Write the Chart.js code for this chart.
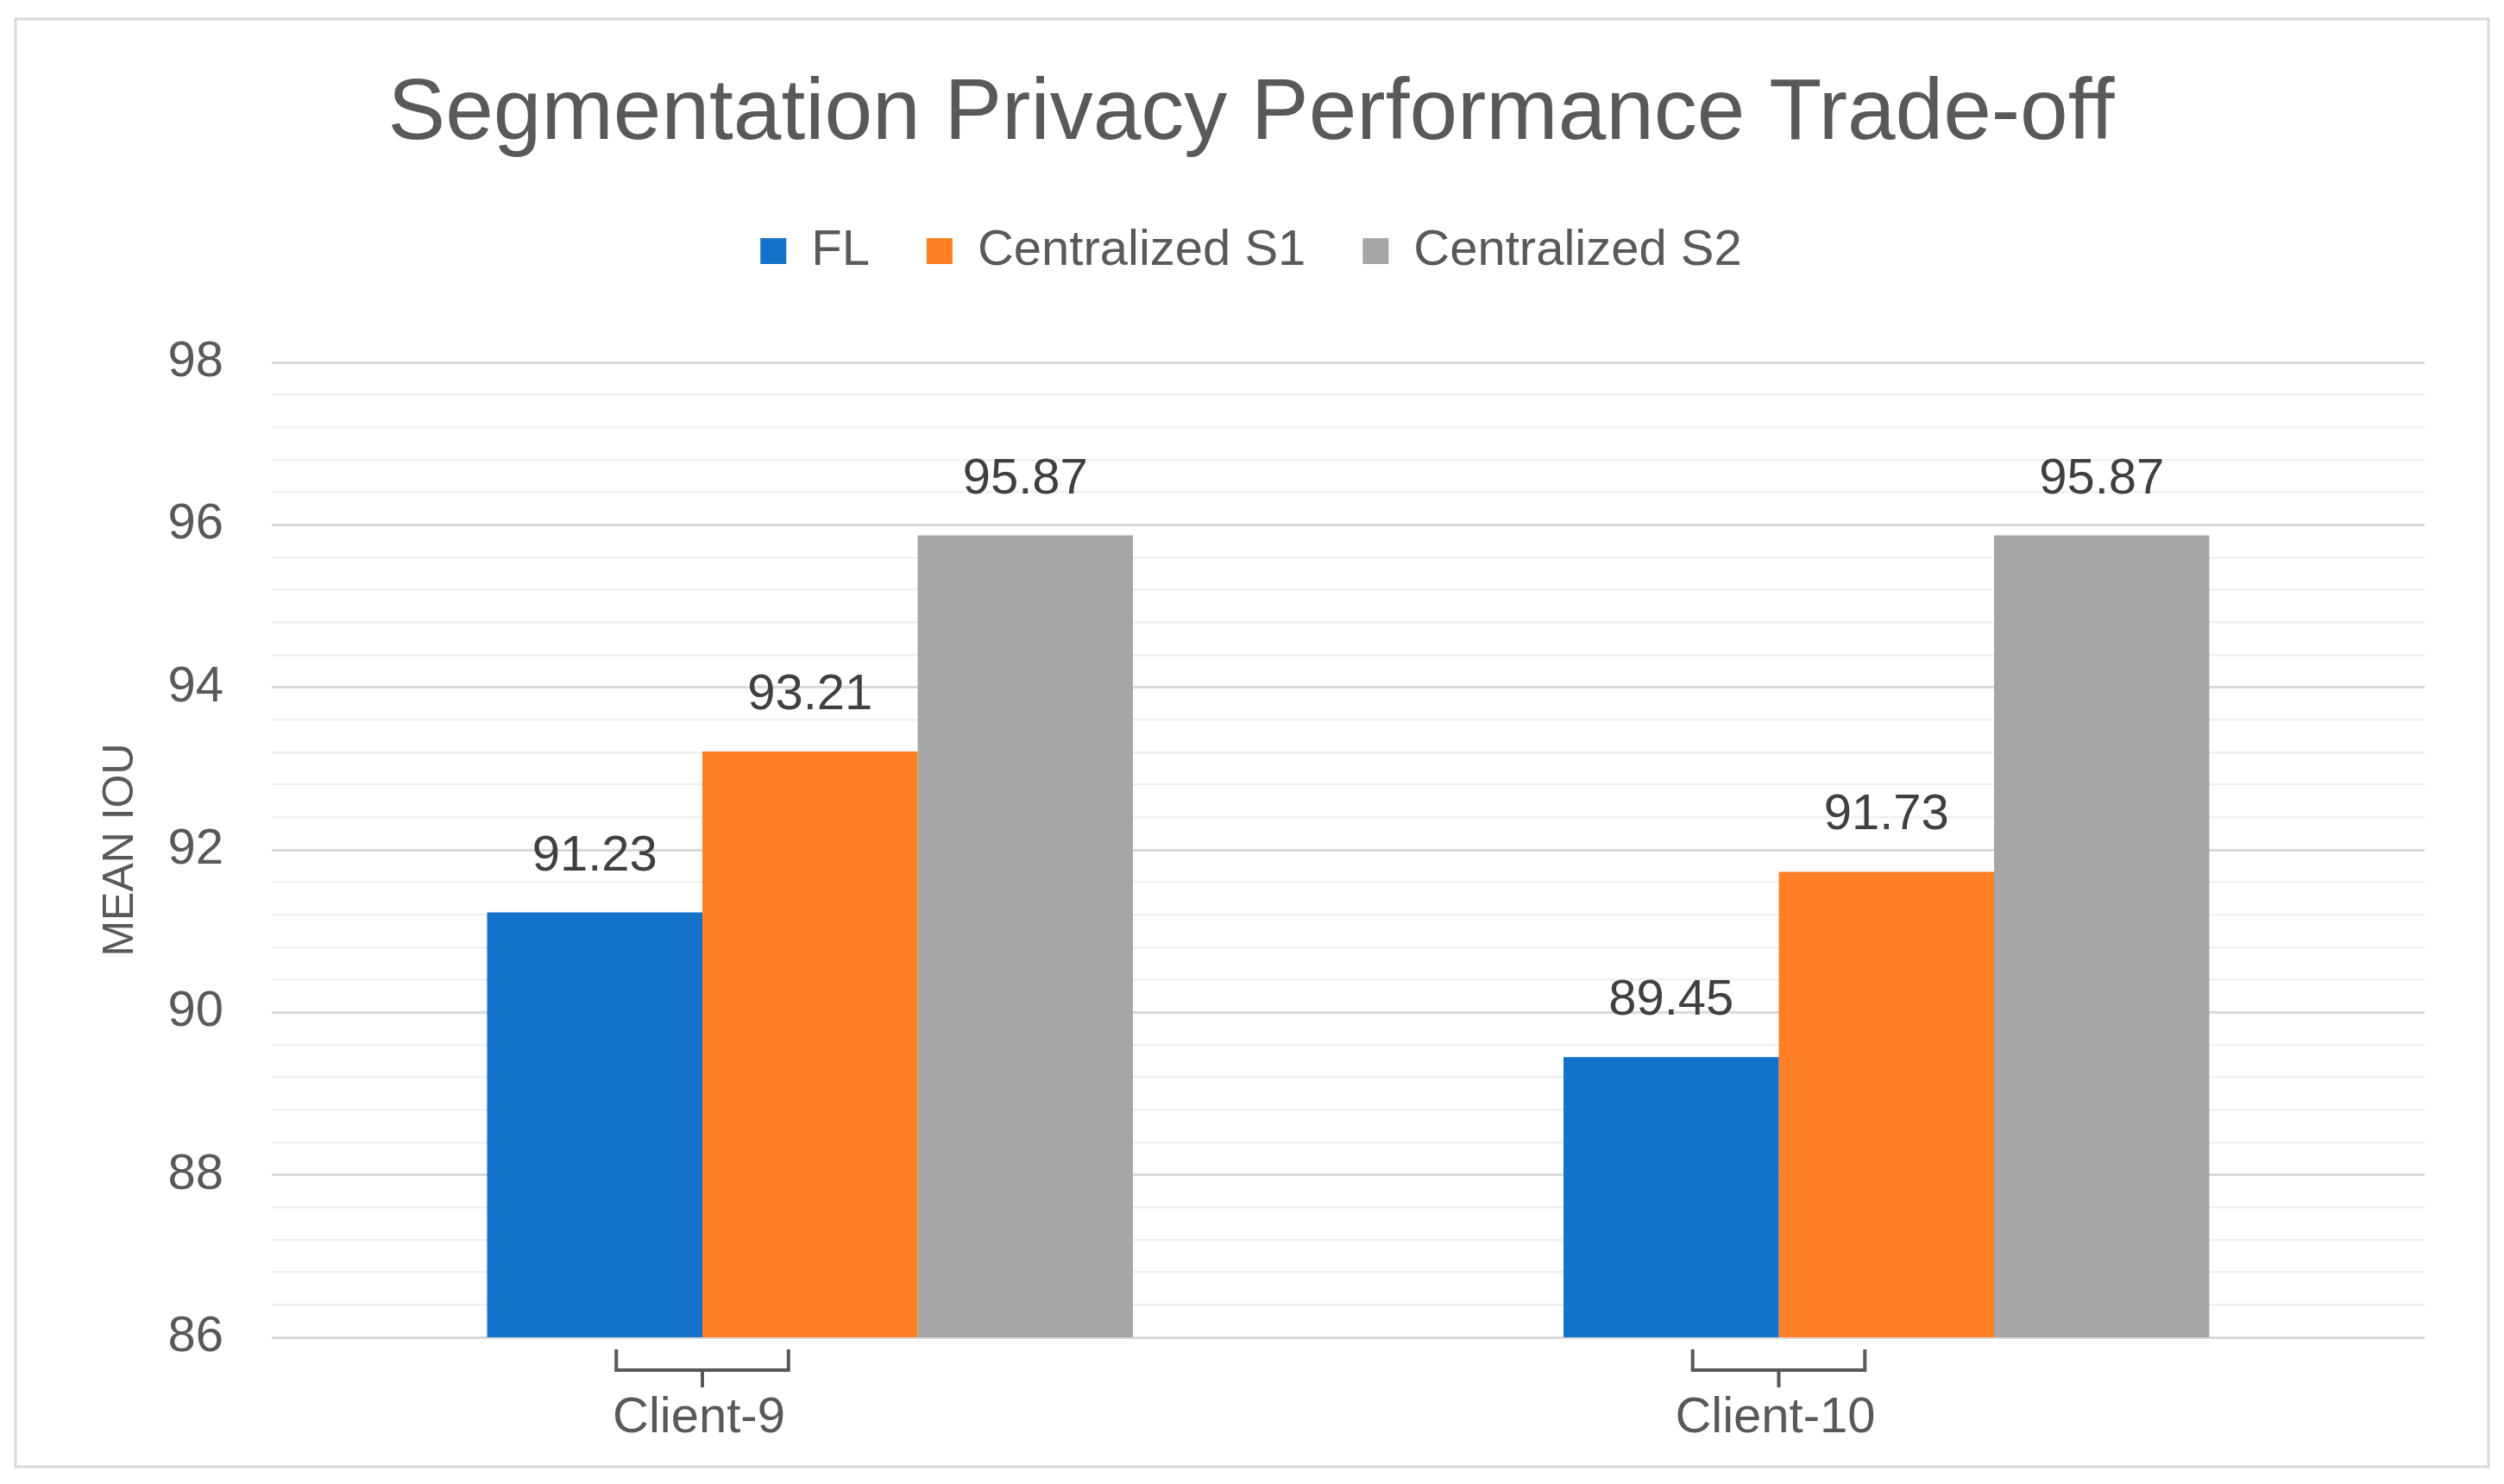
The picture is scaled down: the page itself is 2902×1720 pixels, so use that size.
<!DOCTYPE html>
<html>
<head>
<meta charset="utf-8">
<script src="https://cdn.jsdelivr.net/npm/chart.js"></script>
<style>
  html, body { margin: 0; padding: 0; background: #fff; }
  canvas { display: block; }
</style>
</head>
<body>
<canvas id="iou-chart" width="2902" height="1720"></canvas>
<script>
// chart data
const clients = ['Client-9', 'Client-10'];
const seriesNames = ['FL', 'Centralized S1', 'Centralized S2'];
const flValues = [91.23, 89.45];
const s1Values = [93.21, 91.73];
const s2Values = [95.87, 95.87];
const yMin = 86;
const yMax = 98;
const yMinorStep = 0.4;
const yMajorStep = 2;

const textGrey = '#595959';
const fontFamily = "'Liberation Sans', Arial, sans-serif";

const isMajor = v => Math.abs(v % yMajorStep) < 1e-6;

// white card with light border
const frame = {
  id: 'frame',
  beforeDraw(chart) {
    const ctx = chart.ctx;
    ctx.save();
    ctx.fillStyle = '#fff';
    ctx.fillRect(0, 0, chart.width, chart.height);
    ctx.strokeStyle = '#d9d9d9';
    ctx.lineWidth = 3;
    ctx.strokeRect(18, 22, 2866, 1678);
    ctx.restore();
  }
};

// numbers above the bars
const valueLabels = {
  id: 'valueLabels',
  afterDatasetsDraw(chart) {
    const ctx = chart.ctx;
    ctx.save();
    ctx.font = `58px ${fontFamily}`;
    ctx.fillStyle = '#404040';
    ctx.textAlign = 'center';
    ctx.textBaseline = 'middle';
    chart.data.datasets.forEach((ds, i) => {
      chart.getDatasetMeta(i).data.forEach((bar, j) => {
        ctx.fillText(ds.data[j].toFixed(2), bar.x, bar.y - 65);
      });
    });
    ctx.restore();
  }
};

// bracket + client name under each group
const clientAxis = {
  id: 'clientAxis',
  afterDraw(chart) {
    const ctx = chart.ctx;
    const bottom = chart.chartArea.bottom;
    const firstBars = chart.getDatasetMeta(0).data;
    ctx.save();
    ctx.strokeStyle = textGrey;
    ctx.lineWidth = 4;
    ctx.font = `58px ${fontFamily}`;
    ctx.fillStyle = textGrey;
    ctx.textAlign = 'center';
    ctx.textBaseline = 'middle';
    clients.forEach((name, i) => {
      const bar = firstBars[i];
      const cx = bar.x + bar.width / 2;
      const half = bar.width * 0.4;
      ctx.beginPath();
      ctx.moveTo(cx - half, bottom + 14);
      ctx.lineTo(cx - half, bottom + 38);
      ctx.lineTo(cx + half, bottom + 38);
      ctx.lineTo(cx + half, bottom + 14);
      ctx.moveTo(cx, bottom + 38);
      ctx.lineTo(cx, bottom + 58);
      ctx.stroke();
      ctx.fillText(name, cx - 4, bottom + 94);
    });
    ctx.restore();
  }
};

const iouCanvas = document.getElementById('iou-chart');

let iouData = {
  labels: clients,
  datasets: [
    { label: seriesNames[0], data: flValues, backgroundColor: '#1473c9' },
    { label: seriesNames[1], data: s1Values, backgroundColor: '#fe7f26' },
    { label: seriesNames[2], data: s2Values, backgroundColor: '#a6a6a6' }
  ]
};

let iouOptions = {
  responsive: false,
  devicePixelRatio: 1,
  animation: false,
  events: [],
  categoryPercentage: 0.6,
  barPercentage: 1.0,
  layout: {
    padding: { top: 40, left: 90, right: 92, bottom: 30 }
  },
  scales: {
    x: {
      grid: { display: false },
      border: { display: false },
      ticks: { display: false },
      afterFit: scale => { scale.height = 140; }
    },
    y: {
      min: yMin,
      max: yMax,
      border: { display: false },
      grid: {
        drawTicks: false,
        color: c => isMajor(c.tick.value) ? '#d9d9d9' : '#f0f0f0',
        lineWidth: c => isMajor(c.tick.value) ? 3 : 2.5
      },
      ticks: {
        stepSize: yMinorStep,
        autoSkip: false,
        padding: 56,
        color: textGrey,
        font: { family: fontFamily, size: 58 },
        callback: v => isMajor(v) ? String(Math.round(v)) : ''
      },
      title: {
        display: true,
        text: 'MEAN IOU',
        color: textGrey,
        font: { family: fontFamily, size: 50 },
        padding: { top: 20, bottom: 0 }
      },
      afterFit: scale => { scale.width = 225; }
    }
  },
  plugins: {
    title: {
      display: true,
      text: 'Segmentation Privacy Performance Trade-off',
      color: textGrey,
      font: { family: fontFamily, size: 100, weight: 'normal' },
      padding: { top: 33, bottom: 3 }
    },
    legend: {
      position: 'top',
      weight: 1800,
      labels: {
        color: textGrey,
        font: { family: fontFamily, size: 58 },
        boxWidth: 30,
        boxHeight: 30,
        padding: 66
      }
    },
    subtitle: {
      // empty spacer between legend and plot
      display: true,
      text: ' ',
      font: { size: 10 },
      padding: { top: 0, bottom: 78 }
    },
    tooltip: { enabled: false }
  }
};

let iouChart = new Chart(iouCanvas, {
  type: 'bar',
  data: iouData,
  options: iouOptions,
  plugins: [frame, valueLabels, clientAxis]
});
</script>
</body>
</html>
